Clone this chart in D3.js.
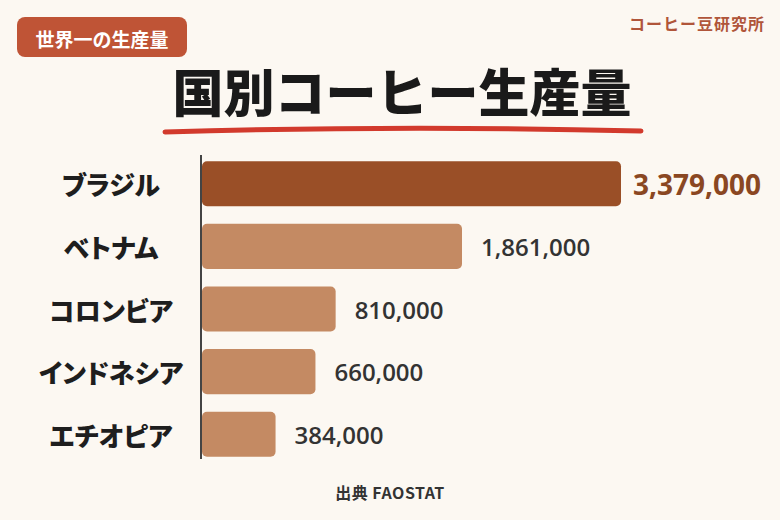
<!DOCTYPE html>
<html>
<head>
<meta charset="utf-8">
<script src="https://cdn.jsdelivr.net/npm/d3@7"></script>
<style>
  body { margin: 0; background: #fcf8f2; }
  svg { display: block; }
</style>
</head>
<body>
<script>
// data
const countries = ["ブラジル", "ベトナム", "コロンビア", "インドネシア", "エチオピア"];
const production = [3379000, 1861000, 810000, 660000, 384000];
const badgeText = "世界一の生産量";
const brandText = "コーヒー豆研究所";
const titleText = "国別コーヒー生産量";
const sourceText = "出典  FAOSTAT";

const W = 780, H = 520;
const jp = "'Noto Sans CJK JP', 'Noto Sans', sans-serif";
const num = "'Open Sans', 'Noto Sans', sans-serif";

const svg = d3.select("body").append("svg")
  .attr("width", W)
  .attr("height", H);

svg.append("rect")
  .attr("width", W).attr("height", H)
  .attr("fill", "#fcf8f2");

// badge linksboven
svg.append("rect")
  .attr("x", 17).attr("y", 17)
  .attr("width", 170).attr("height", 40)
  .attr("rx", 8)
  .attr("fill", "#bf5436");
svg.append("text")
  .attr("x", 102).attr("y", 38)
  .attr("text-anchor", "middle")
  .attr("dominant-baseline", "central")
  .style("font-family", jp)
  .style("font-weight", 700)
  .style("font-size", "19px")
  .attr("fill", "#ffffff")
  .text(badgeText);

// merk rechtsboven
svg.append("text")
  .attr("x", 765).attr("y", 23)
  .attr("text-anchor", "end")
  .attr("dominant-baseline", "central")
  .style("font-family", jp)
  .style("font-weight", 700)
  .style("font-size", "16px")
  .style("letter-spacing", "1px")
  .attr("fill", "#b0553a")
  .text(brandText);

// titel + rode onderstreping
svg.append("text")
  .attr("x", 402).attr("y", 112)
  .attr("text-anchor", "middle")
  .style("font-family", jp)
  .style("font-weight", 900)
  .style("font-size", "51px")
  .attr("fill", "#1a1a1a")
  .text(titleText);

svg.append("path")
  .attr("d", "M165,132 Q400,125 641,131")
  .attr("fill", "none")
  .attr("stroke", "#d23a2d")
  .attr("stroke-width", 5)
  .attr("stroke-linecap", "round");

// schalen
const x0 = 202;
const y = d3.scaleBand()
  .domain(countries)
  .range([155, 463])
  .paddingInner(0.28)
  .paddingOuter(0.1);

const x = d3.scalePow()
  .exponent(0.8)
  .domain([0, d3.max(production)])
  .range([0, 419]);

const rows = countries.map((c, i) => ({ name: c, value: production[i], i: i }));

// balken
svg.selectAll(".bar")
  .data(rows)
  .enter().append("rect")
  .attr("class", "bar")
  .attr("x", x0)
  .attr("y", d => y(d.name))
  .attr("width", d => x(d.value))
  .attr("height", y.bandwidth())
  .attr("rx", 5)
  .attr("fill", d => d.i === 0 ? "#9a4f27" : "#c48a63");

// as
svg.append("line")
  .attr("x1", 201).attr("x2", 201)
  .attr("y1", 155).attr("y2", 459)
  .attr("stroke", "#444")
  .attr("stroke-width", 2);

// landnamen
svg.selectAll(".cat")
  .data(rows)
  .enter().append("text")
  .attr("class", "cat")
  .attr("x", 111)
  .attr("y", d => y(d.name) + y.bandwidth() / 2)
  .attr("text-anchor", "middle")
  .attr("dominant-baseline", "central")
  .style("font-family", jp)
  .style("font-weight", 900)
  .style("font-size", "26px")
  .style("font-feature-settings", "'palt'")
  .attr("fill", "#1e1e1e")
  .text(d => d.name);

// waarden
const fmt = d3.format(",");
svg.selectAll(".val")
  .data(rows)
  .enter().append("text")
  .attr("class", "val")
  .attr("x", d => x0 + x(d.value) + (d.i === 0 ? 12 : 19))
  .attr("y", d => y(d.name) + y.bandwidth() / 2)
  .attr("dominant-baseline", "central")
  .style("font-family", num)
  .style("font-weight", d => d.i === 0 ? 700 : 600)
  .style("font-size", d => d.i === 0 ? "28px" : "24px")
  .attr("fill", d => d.i === 0 ? "#8a4722" : "#333333")
  .text(d => fmt(d.value));

// bron
svg.append("text")
  .attr("x", 390).attr("y", 492)
  .attr("text-anchor", "middle")
  .attr("dominant-baseline", "central")
  .style("font-family", jp)
  .style("font-weight", 700)
  .style("font-size", "16px")
  .style("letter-spacing", "0.5px")
  .attr("fill", "#333")
  .text(sourceText);
</script>
</body>
</html>
